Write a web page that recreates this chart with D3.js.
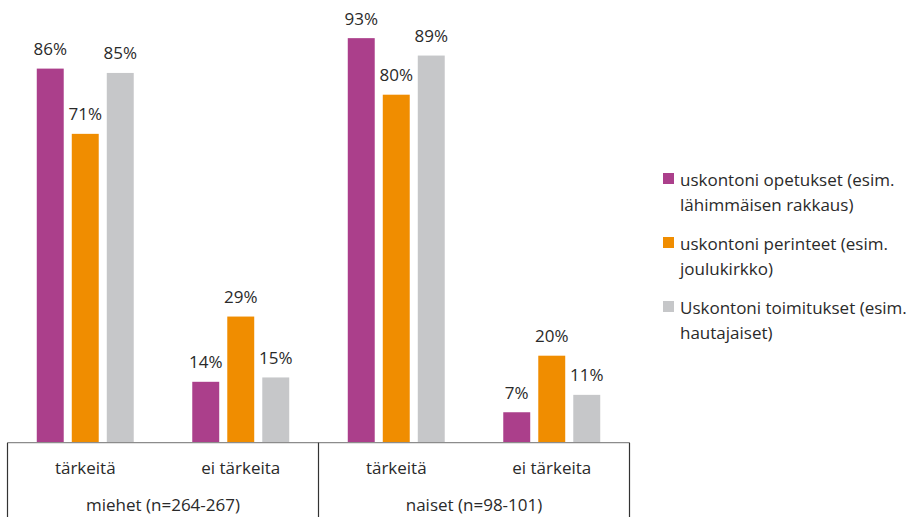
<!DOCTYPE html>
<html lang="fi">
<head>
  <meta charset="UTF-8">
  <title>uskonto</title>
  <script src="https://d3js.org/d3.v7.min.js"></script>
  <style>
    body { margin: 0; background: #fff; }
    text { font-family: "Open Sans", Calibri, sans-serif; fill: #2a2a2a; }
  </style>
</head>
<body>
  <svg id="chart" width="912" height="517"></svg>
  <script>
    // data
    const groups = ["miehet (n=264-267)", "naiset (n=98-101)"];
    const answers = ["tärkeitä", "ei tärkeita"];
    const seriesNames = [
      ["uskontoni opetukset (esim.", "lähimmäisen rakkaus)"],
      ["uskontoni perinteet (esim.", "joulukirkko)"],
      ["Uskontoni toimitukset (esim.", "hautajaiset)"]
    ];
    const colors = ["#AB3F8B", "#F08D00", "#C6C7C9"];
    // values per category (group x answer), one per series
    const opetukset = [86, 14, 93, 7];
    const perinteet = [71, 29, 80, 20];
    const toimitukset = [85, 15, 89, 11];
    const series = [opetukset, perinteet, toimitukset];

    const svg = d3.select("#chart");
    const left = 7.5, right = 629.5, base = 442.7, bottom = 517;

    const cats = [];
    groups.forEach((g, gi) => answers.forEach((a, ai) => cats.push({ key: gi + "-" + ai, label: a, gi })));

    const x = d3.scaleBand().domain(cats.map(c => c.key)).range([left, right]);
    const xs = d3.scaleBand().domain(d3.range(series.length)).range([0, x.bandwidth()]).paddingInner(0.23).paddingOuter(0.836);
    const y = d3.scaleLinear().domain([0, 100]).range([base, base - 435]);

    const bars = [];
    series.forEach((vals, si) => vals.forEach((v, ci) => bars.push({ si, ci, v })));

    svg.append("g").selectAll("rect").data(bars).join("rect")
      .attr("x", d => x(cats[d.ci].key) + xs(d.si))
      .attr("width", xs.bandwidth())
      .attr("y", d => y(d.v))
      .attr("height", d => y(0) - y(d.v))
      .attr("fill", d => colors[d.si]);

    svg.append("g").selectAll("text").data(bars).join("text")
      .attr("x", d => x(cats[d.ci].key) + xs(d.si) + xs.bandwidth() / 2)
      .attr("y", d => y(d.v) - 13.5)
      .attr("text-anchor", "middle")
      .attr("font-size", 17)
      .text(d => d.v + "%");

    // axis box
    svg.append("line").attr("x1", left).attr("x2", right).attr("y1", base).attr("y2", base)
      .attr("stroke", "#8c8c8c").attr("stroke-width", 1.2);
    const dividers = [left, (left + right) / 2, right];
    svg.append("g").selectAll("line").data(dividers).join("line")
      .attr("x1", d => d).attr("x2", d => d).attr("y1", base).attr("y2", bottom)
      .attr("stroke", "#333").attr("stroke-width", 1.2);

    svg.append("g").selectAll("text").data(cats).join("text")
      .attr("x", d => x(d.key) + x.bandwidth() / 2)
      .attr("y", 474)
      .attr("text-anchor", "middle")
      .attr("font-size", 17)
      .text(d => d.label);

    const half = (right - left) / 2;
    svg.append("g").selectAll("text").data(groups).join("text")
      .attr("x", (d, i) => left + half * i + half / 2)
      .attr("y", 511)
      .attr("text-anchor", "middle")
      .attr("font-size", 17)
      .text(d => d);

    // legend
    const leg = svg.append("g").selectAll("g").data(seriesNames).join("g")
      .attr("transform", (d, i) => `translate(663, ${186 + i * 64})`);
    leg.append("rect").attr("x", 0).attr("y", -13).attr("width", 11).attr("height", 11)
      .attr("fill", (d, i) => colors[i]);
    leg.append("text").attr("x", 17).attr("font-size", 17)
      .selectAll("tspan").data(d => d).join("tspan")
      .attr("x", 17).attr("dy", (d, i) => i === 0 ? 0 : 25)
      .text(d => d);
  </script>
</body>
</html>
